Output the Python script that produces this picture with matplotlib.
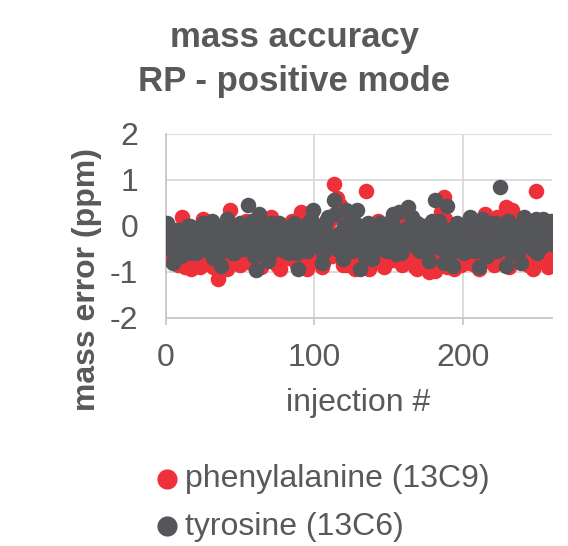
import matplotlib
matplotlib.use('Agg')
import matplotlib.pyplot as plt

plt.rcParams['font.family'] = ['Liberation Sans', 'DejaVu Sans']
plt.rcParams['axes.unicode_minus'] = False

# injection numbers
inj_odd = list(range(1, 261, 2))
inj_even = list(range(2, 261, 2))

# phenylalanine (13C9) mass error, ppm
phe_odd = [-0.15, -0.75, -0.3, -0.5, -0.1, 0.2, -0.9, -0.45, -0.95, -0.2,
           -0.6, -0.9, 0.15, -0.35, 0.05, -0.7, -0.25, -1.15, -0.5, -0.05,
           -0.95, 0.35, -0.4, -0.15, -0.7, -0.3, -0.55, 0.0, -0.8, -0.2,
           -0.45, -0.1, -0.75, 0.05, -0.5, 0.2, -0.35, -0.85, -0.95, -0.15,
           -0.6, -0.3, 0.1, -0.75, -0.45, 0.3, -0.2, -0.95, -0.55, 0.0,
           -0.4, -0.7, -0.9, -0.25, -0.1, -0.5, 0.9, 0.6, 0.45, -0.85,
           -0.3, -0.6, 0.05, -0.95, -0.45, -0.2, -0.8, 0.75, -0.95, -0.35,
           -0.65, 0.1, -0.4, -0.9, -0.15, -0.55, -0.75, 0.05, -0.3, -0.85,
           -0.5, 0.15, -0.7, -0.25, -0.95, -0.45, 0.0, -0.8, -1.0, -0.35,
           -0.98, -0.6, 0.3, 0.62, -0.9, -0.2, -0.7, -0.4, -0.1, -0.85,
           -0.5, -0.3, -0.8, 0.1, -0.6, -0.95, -0.25, 0.25, -0.7, -0.45,
           -0.85, 0.2, -0.5, -0.15, 0.4, -0.9, 0.35, -0.6, 0.15, -0.35,
           -0.75, -0.2, -0.55, -0.95, 0.75, -0.4, -0.1, -0.65, -0.9, -0.7]
phe_even = [-0.4, -0.65, -0.2, -0.85, -0.3, -0.55, -0.1, -0.7, -0.35, -0.5,
            -0.8, -0.25, -0.6, -0.05, -0.45, -0.9, -0.3, -0.65, -0.15, -0.55,
            -0.35, -0.75, -0.1, -0.5, -0.85, -0.25, 0.1, -0.6, -0.4, -0.7,
            -0.2, -0.9, -0.45, -0.05, -0.65, -0.3, -0.8, -0.15, -0.55, -0.4,
            -0.7, -0.1, -0.5, -0.85, -0.25, -0.6, 0.05, -0.4, -0.75, -0.3,
            -0.55, -0.2, -0.8, -0.35, 0.1, -0.65, -0.45, 0.2, -0.3, -0.6,
            -0.85, -0.15, -0.5, -0.7, -0.25, -0.9, -0.4, -0.05, -0.6, -0.75,
            -0.3, -0.55, -0.85, -0.2, -0.45, 0.0, -0.7, -0.35, -0.6, -0.1,
            -0.75, -0.4, -0.2, -0.9, -0.5, -0.65, -0.1, -0.85, -0.3, -0.55,
            -0.45, -0.8, -0.25, 0.15, -0.6, -0.35, -0.95, -0.15, -0.5, -0.7,
            -0.2, -0.65, -0.4, -0.85, 0.0, -0.55, -0.3, -0.75, -0.1, -0.6,
            -0.45, 0.1, -0.8, -0.25, 0.3, -0.6, -0.35, -0.05, -0.7, -0.5,
            -0.3, -0.85, 0.05, -0.6, -0.4, -0.75, -0.2, -0.5, -0.45, -0.8]

# tyrosine (13C6) mass error, ppm
tyr_odd = [0.05, -0.2, -0.8, -0.35, -0.1, -0.5, -0.25, 0.0, -0.6, -0.3,
           -0.15, -0.45, 0.05, -0.3, -0.55, 0.1, -0.2, -0.4, -0.87, -0.05,
           0.15, -0.35, -0.6, -0.15, -0.3, -0.5, -0.05, 0.45, -0.25, -0.65,
           -0.96, 0.25, -0.1, -0.4, -0.76, 0.05, -0.3, -0.2, -0.5, -0.05,
           -0.35, -0.6, -0.15, -0.25, -0.94, -0.4, 0.0, -0.55, 0.1, 0.35,
           -0.2, -0.45, -0.8, -0.1, 0.2, -0.3, 0.55, -0.5, -0.15, -0.72,
           0.35, -0.25, -0.55, 0.05, 0.35, -0.94, -0.35, -0.1, -0.6, -0.72,
           -0.2, -0.4, 0.0, -0.3, -0.55, -0.15, 0.25, -0.62, 0.3, -0.25,
           -0.45, 0.4, -0.1, -0.35, 0.05, -0.55, -0.2, -0.4, -0.77, 0.1,
           0.55, -0.3, -0.15, -0.8, 0.44, -0.5, -0.87, -0.25, 0.0, -0.4,
           -0.6, -0.1, 0.2, -0.35, -0.5, -0.9, 0.15, -0.2, -0.45, 0.05,
           -0.3, -0.55, 0.85, -0.15, -0.87, -0.4, 0.0, -0.25, -0.6, -0.8,
           0.2, -0.35, -0.1, -0.5, 0.15, -0.25, -0.45, 0.0, -0.3, 0.1]
tyr_even = [-0.3, -0.55, -0.1, -0.4, -0.65, -0.2, -0.45, 0.0, -0.35, -0.6,
            -0.25, 0.0, -0.5, -0.15, -0.4, -0.7, -0.05, -0.3, -0.55, -0.2,
            -0.45, -0.1, -0.6, -0.3, 0.05, -0.5, -0.2, -0.4, 0.1, -0.35,
            -0.15, -0.5, -0.3, 0.0, -0.6, -0.25, -0.45, 0.05, -0.35, -0.55,
            -0.2, -0.45, 0.05, -0.6, -0.3, -0.1, -0.5, -0.25, 0.15, -0.4,
            -0.1, -0.35, -0.6, 0.1, -0.25, -0.45, 0.25, -0.3, -0.55, 0.0,
            -0.4, 0.1, -0.2, -0.5, -0.1, -0.3, -0.65, 0.05, -0.45, -0.2,
            -0.35, 0.05, -0.5, -0.15, -0.3, 0.15, -0.45, -0.1, -0.6, -0.25,
            -0.05, -0.4, 0.2, -0.25, -0.5, -0.15, 0.0, -0.6, -0.3, -0.45,
            -0.2, 0.1, -0.5, -0.35, -0.1, -0.6, -0.25, 0.05, -0.45, -0.3,
            -0.15, -0.4, 0.0, -0.55, -0.25, 0.1, -0.35, -0.65, -0.1, -0.3,
            0.05, -0.45, -0.2, -0.35, 0.1, -0.6, -0.25, -0.5, 0.0, -0.4,
            -0.15, 0.05, -0.45, -0.25, -0.6, -0.1, 0.15, -0.35, -0.2, -0.4]

names = ['phenylalanine (13C9)', 'tyrosine (13C6)']
colors = ['#EE3039', '#545659']
txt = '#595959'
grid = '#D9D9D9'
fs = 23

fig = plt.figure(figsize=(5.68, 5.46), dpi=100)
ax = fig.add_axes([0.292, 0.418, 0.68, 0.337])

ax.scatter(inj_odd + inj_even, phe_odd + phe_even, s=125, color=colors[0],
           linewidths=0, zorder=3, label=names[0])
ax.scatter(inj_odd + inj_even, tyr_odd + tyr_even, s=125, color=colors[1],
           linewidths=0, zorder=4, label=names[1])

ax.set_xlim(0, 260)
ax.set_ylim(-2, 2)
ax.set_xticks([0, 100, 200])
ax.set_yticks([-2, -1, 0, 1, 2])
ax.grid(True, color=grid, linewidth=1.3, zorder=0)
ax.set_axisbelow(True)
for s in ['top', 'right']:
    ax.spines[s].set_visible(False)
for s in ['left', 'bottom']:
    ax.spines[s].set_color('#C8C8C8')
    ax.spines[s].set_linewidth(1.3)
ax.tick_params(axis='x', length=5, width=1.3, color='#C8C8C8', pad=13,
               labelsize=fs, labelcolor=txt)
ax.tick_params(axis='y', length=0, pad=20, labelsize=fs, labelcolor=txt)

fig.text(0.518, 0.914, 'mass accuracy', ha='center', va='baseline',
         fontsize=25, fontweight='bold', color=txt)
fig.text(0.518, 0.833, 'RP - positive mode', ha='center', va='baseline',
         fontsize=25, fontweight='bold', color=txt)
fig.text(0.153, 0.489, 'mass error (ppm)', rotation=90, ha='center', va='center',
         fontsize=fs, fontweight='bold', color=txt)
fig.text(0.630, 0.247, 'injection #', ha='center', va='baseline',
         fontsize=fs, color=txt)

leg = fig.legend(loc='upper left', bbox_to_anchor=(0.280, 0.150), frameon=False,
                 fontsize=fs, handlelength=0.5, handletextpad=0.3,
                 labelspacing=0.55, borderpad=0, borderaxespad=0, markerscale=1.3)
for t in leg.get_texts():
    t.set_color(txt)

fig.savefig('out.png', dpi=100)
